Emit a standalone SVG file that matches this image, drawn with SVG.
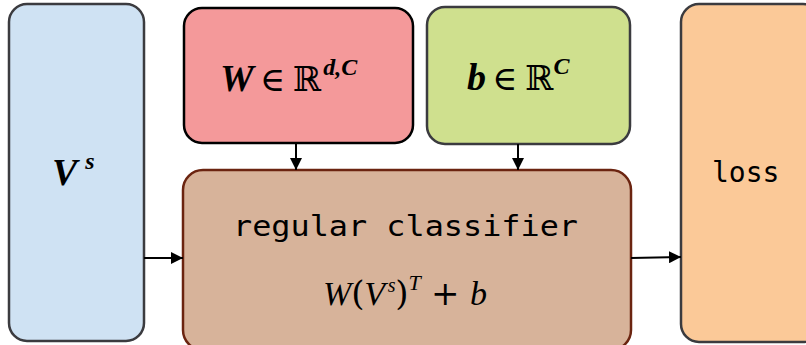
<svg xmlns="http://www.w3.org/2000/svg" width="806" height="345" viewBox="0 0 806 345">
<style>
.box{stroke-width:2.5}
.math{font-family:"Liberation Serif","DejaVu Serif",serif;font-style:italic;font-weight:bold;fill:#000}
.mn{font-family:"Liberation Serif","DejaVu Serif",serif;font-style:italic;font-weight:normal;fill:#000}
.mr{font-family:"DejaVu Serif","Liberation Serif",serif;font-style:normal;font-weight:normal}
.mono{font-family:"DejaVu Sans Mono","Liberation Mono",monospace;fill:#000}
.conn{stroke:#000;stroke-width:2;fill:none}
</style>
<defs>
<marker id="ah" viewBox="0 0 10 10" refX="10" refY="5" markerWidth="12" markerHeight="12" markerUnits="userSpaceOnUse" orient="auto">
<path d="M0,0 L10,5 L0,10 z" fill="#000"/>
</marker>
</defs>
<rect width="806" height="345" fill="#fff"/>
<g id="vs">
<rect class="box" x="9" y="4" width="135" height="337" rx="18" fill="#cfe2f3" stroke="#3b3b3f"/>
<text class="math" x="52" y="185" font-size="38">V<tspan font-size="24" dx="8" dy="-16">s</tspan></text>
</g>
<g id="W">
<rect class="box" x="184" y="8" width="229" height="135" rx="18" fill="#f4999a" stroke="#000"/>
<text class="math" x="220" y="91" font-size="38">W<tspan class="mr" font-size="34" dx="6">∈</tspan><tspan class="mr" font-size="34" dx="8">ℝ</tspan><tspan font-size="24" dx="2" dy="-16">d,C</tspan></text>
</g>
<g id="b">
<rect class="box" x="427" y="7" width="203" height="137" rx="18" fill="#cfe08e" stroke="#3b3b3f"/>
<text class="math" x="467" y="90" font-size="38">b<tspan class="mr" font-size="34" dx="6">∈</tspan><tspan class="mr" font-size="34" dx="8">ℝ</tspan><tspan font-size="24" dy="-16">C</tspan></text>
</g>
<g id="classifier">
<rect class="box" x="183" y="170" width="448" height="180" rx="20" fill="#d7b39a" stroke="#6b2410"/>
<text class="mono" x="233" y="236" font-size="28" textLength="345" lengthAdjust="spacingAndGlyphs">regular classifier</text>
<text class="mn" x="323" y="305" font-size="34" textLength="164" lengthAdjust="spacing">W<tspan class="mr">(</tspan>V<tspan font-size="20" dx="3" dy="-13">s</tspan><tspan class="mr" dy="13">)</tspan><tspan font-size="22" dy="-15">T</tspan><tspan class="mr" dy="15"> + </tspan>b</text>
</g>
<g id="loss">
<rect class="box" x="681" y="4" width="140" height="338" rx="18" fill="#fbc998" stroke="#3b3b3f"/>
<text class="mono" x="712" y="182" font-size="28">loss</text>
</g>
<g id="connectors">
<line class="conn" x1="144" y1="258" x2="183" y2="258" marker-end="url(#ah)"/>
<line class="conn" x1="631" y1="258" x2="681" y2="257" marker-end="url(#ah)"/>
<line class="conn" x1="296" y1="143" x2="296" y2="170" marker-end="url(#ah)"/>
<line class="conn" x1="518" y1="144" x2="518" y2="170" marker-end="url(#ah)"/>
</g>
</svg>
